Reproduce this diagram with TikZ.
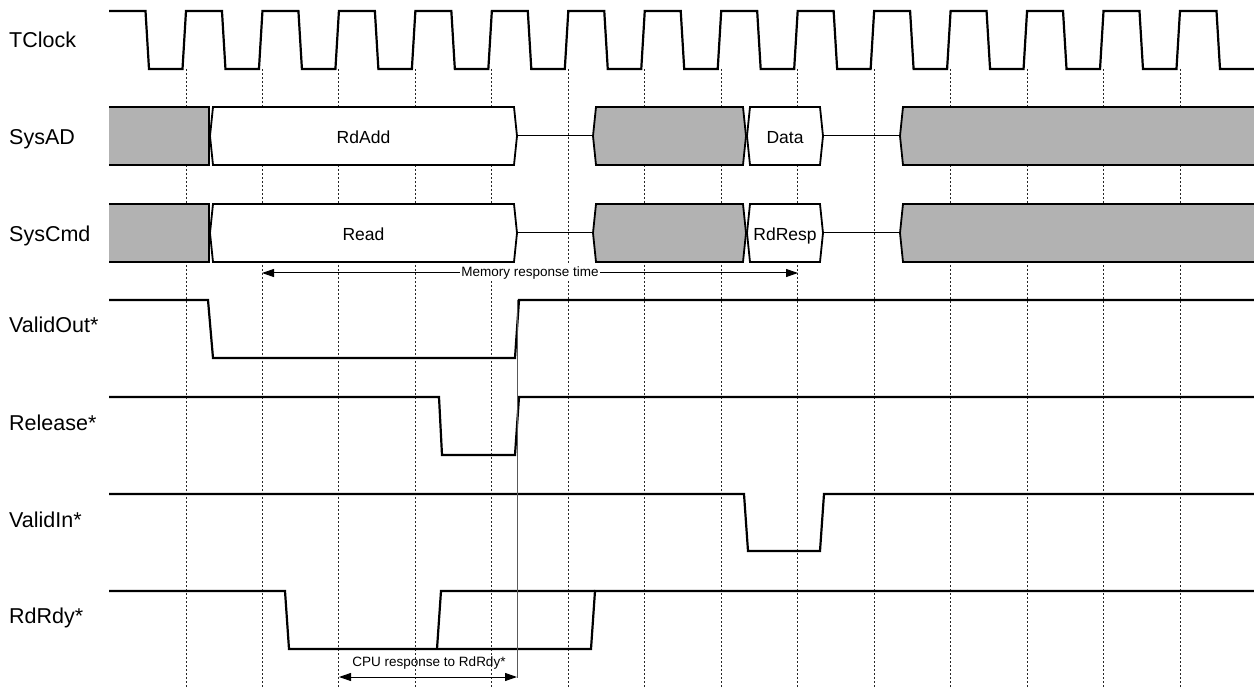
\documentclass[tikz,border=0pt]{standalone}
\usepackage{fontspec}
\setmainfont{Liberation Sans}
\usetikzlibrary{arrows.meta}

\tikzstyle{sig}=[line width=2.2pt, line join=miter]
\tikzstyle{tck}=[line width=0.9pt, dash pattern=on 2pt off 2pt, black!85]
\tikzstyle{idle}=[line width=1pt]
\tikzstyle{bW}=[line width=1.8pt, fill=white, line join=miter]
\tikzstyle{bG}=[line width=1.8pt, fill=black!30, line join=miter]
\tikzstyle{rowL}=[anchor=base west, inner sep=0pt, font=\fontsize{21.5}{24}\selectfont]
\tikzstyle{boxL}=[anchor=base, inner sep=0pt, font=\fontsize{17.5}{20}\selectfont]
\tikzstyle{noteL}=[inner sep=1.5pt, font=\fontsize{13.5}{16}\selectfont]
\tikzstyle{span}=[line width=1pt, {Triangle[length=12pt,width=8pt]}-{Triangle[length=12pt,width=8pt]}]

% bus value box: left x, right x, top y, style
\newcommand{\hexbox}[4]{\draw[#4] ({#1+3},#3) -- ({#2-3},#3) -- (#2,{#3+29}) -- ({#2-3},{#3+58}) -- ({#1+3},{#3+58}) -- (#1,{#3+29}) -- cycle;}

\begin{document}
\begin{tikzpicture}[x=1pt,y=-1pt]
\useasboundingbox (0,0) rectangle (1254,687);

% clock edges
\foreach \k in {0,...,13}
    \draw[tck] ({186+76.46*\k},69) -- ({186+76.46*\k},687);

% TClock
\draw[sig] (109,11) \foreach \k in {0,...,13} { -- ({145.5+76.46*\k},11) -- ({149+76.46*\k},69) -- ({182.5+76.46*\k},69) -- ({186+76.46*\k},11) } -- (1216.5,11) -- (1220,69) -- (1254,69);

% SysAD and SysCmd
\foreach \t/\la/\lb/\na/\nb in {107/RdAdd/Data/rdadd/data, 204/Read/RdResp/read/rdresp} {
    \fill[black!30] (109,\t) rectangle (209,{\t+58});
    \draw[line width=1.8pt] (109,\t) -- (209,\t) -- (209,{\t+58}) -- (109,{\t+58});
    \hexbox{210}{517}{\t}{bW}
    \draw[idle] (517,{\t+29}) -- (593,{\t+29});
    \hexbox{593}{746}{\t}{bG}
    \hexbox{747}{823}{\t}{bW}
    \draw[idle] (823,{\t+29}) -- (900,{\t+29});
    \filldraw[bG] (1254,\t) -- (903,\t) -- (900,{\t+29}) -- (903,{\t+58}) -- (1254,{\t+58});
    \node[boxL] (\na) at (363.5,{\t+36.5}) {\la};
    \node[boxL] (\nb) at (785,{\t+36.5}) {\lb};
}

% control lines
\draw[sig] (109,300) -- (208,300) -- (213,358) -- (515,358) -- (519,300) -- (1254,300);
\draw[sig] (109,397) -- (439,397) -- (442,455) -- (515,455) -- (519,397) -- (1254,397);
\draw[sig] (109,494) -- (744,494) -- (748,551) -- (820,551) -- (824,494) -- (1254,494);
\draw[sig] (109,591) -- (285,591) -- (289,649) -- (591,649) -- (595,591) -- (1254,591);
\draw[sig] (437,649) -- (441,591) -- (595,591);

% row names
\draw (9,48) node[rowL] (nclk) {TClock};
\draw (9,145) node[rowL] (nad) {SysAD};
\draw (9,242) node[rowL] (ncmd) {SysCmd};
\draw (9,333) node[rowL] (nvo) {ValidOut*};
\draw (9,430) node[rowL] (nrel) {Release*};
\draw (9,527) node[rowL] (nvi) {ValidIn*};
\draw (9,623) node[rowL] (nrdy) {RdRdy*};

% timing marks
\coordinate (vTop) at (517,300);
\coordinate (vBot) at (517,678);
\draw[idle, black!65] (vTop) -- (vBot);

\coordinate (mL) at (262,273);
\coordinate (mR) at (798,273);
\draw[span] (mL) -- (mR) node[noteL, fill=white, midway] (mrt) {Memory response time};

\coordinate (cL) at (339,677);
\coordinate (cR) at (517,677);
\draw[span] (cL) -- (cR);
\draw (429,666.5) node[noteL, anchor=base] (cpu) {CPU response to RdRdy*};
\end{tikzpicture}
\end{document}
